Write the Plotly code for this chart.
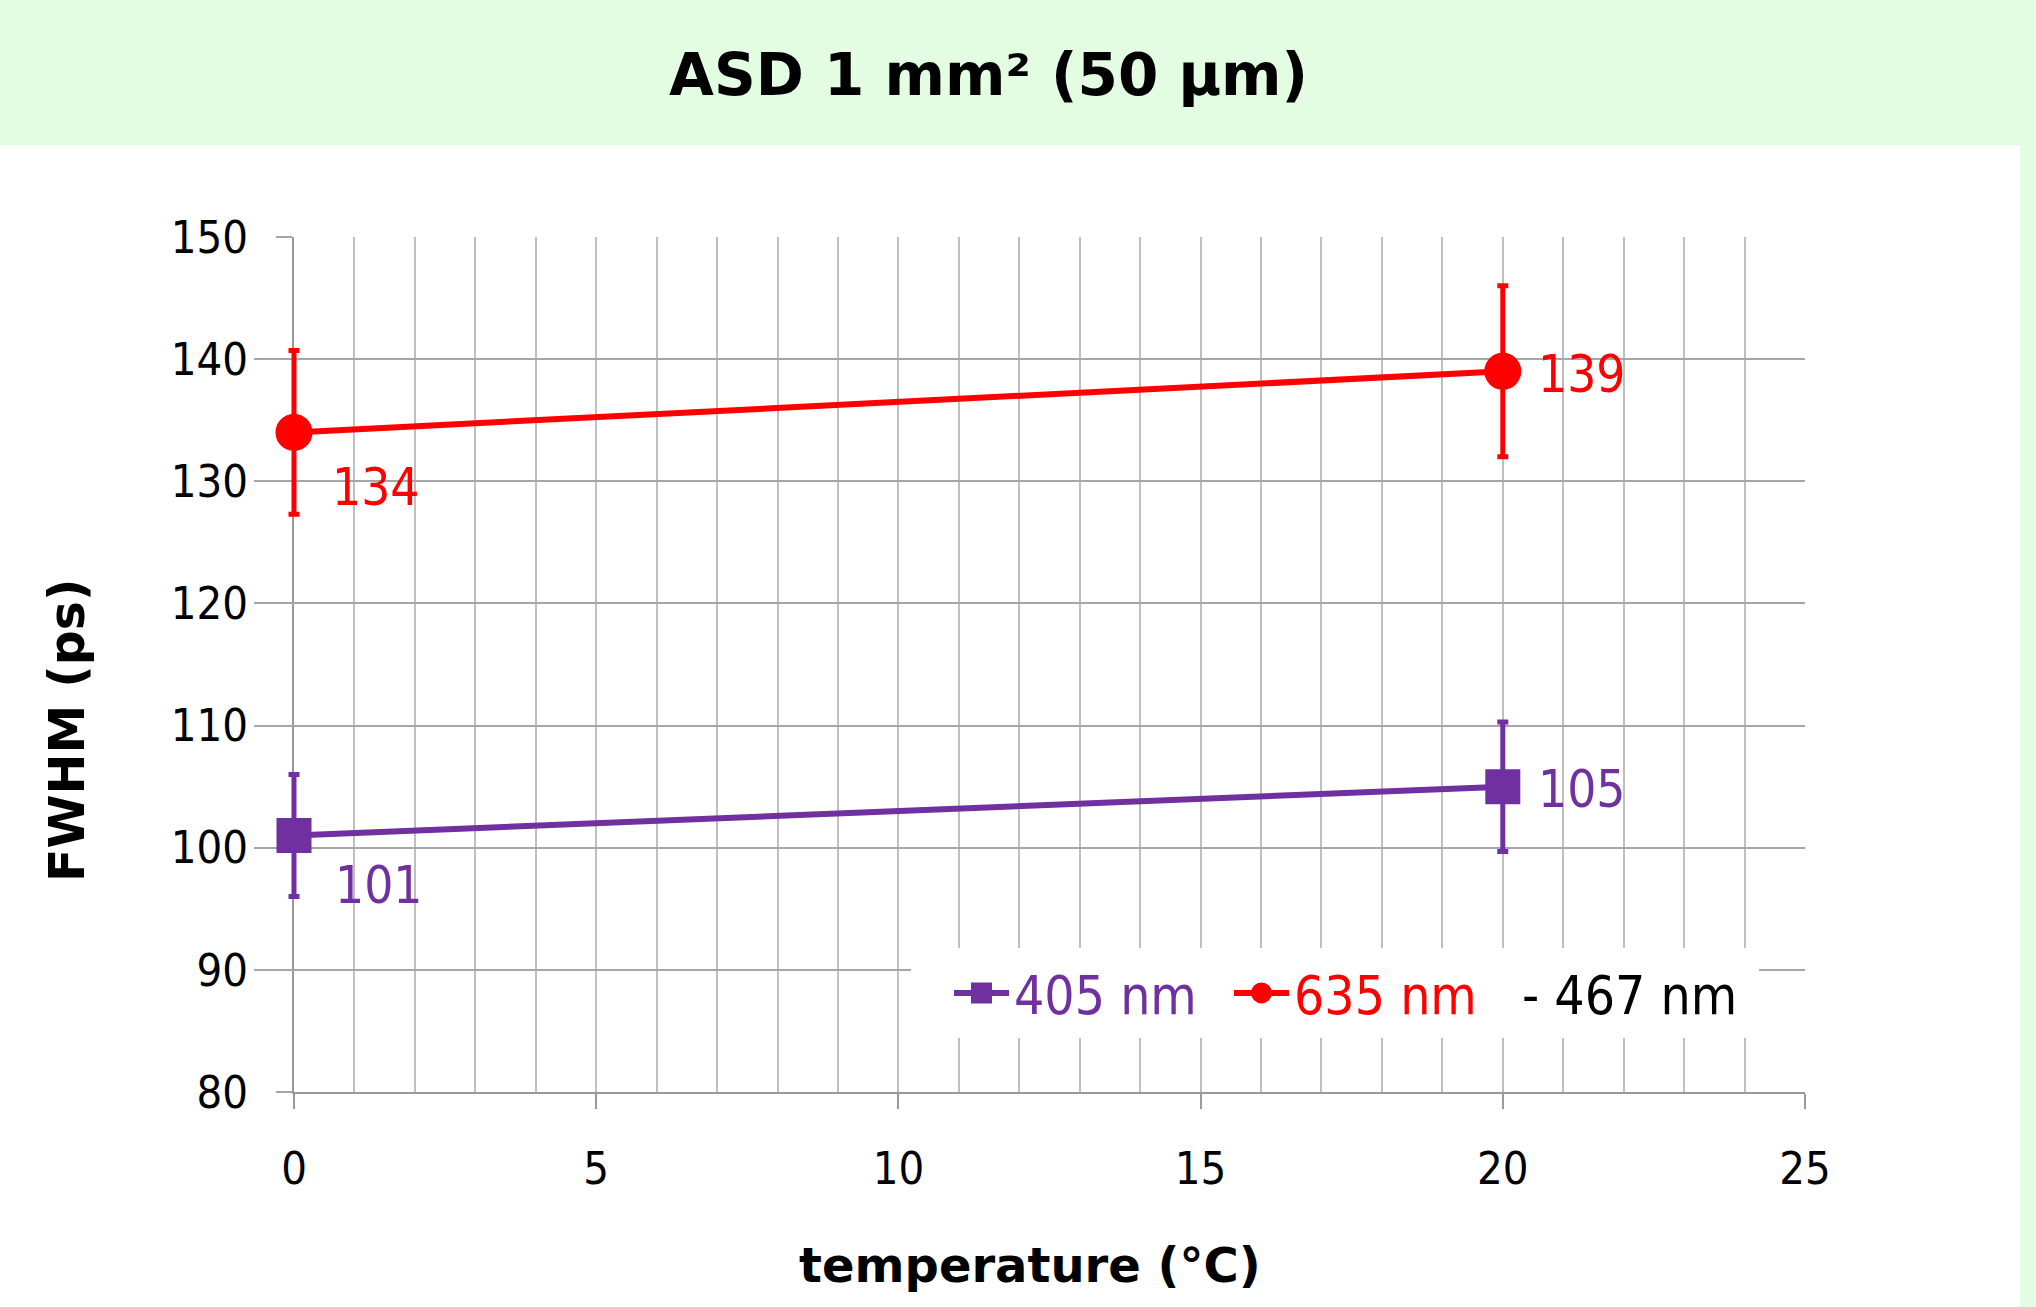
import plotly.graph_objects as go

# ---- data ----
temperature = [0, 20]
fwhm_405 = [101, 105]
err_405 = [5.0, 5.3]
fwhm_635 = [134, 139]
err_635 = [6.7, 7.0]
series_names = ["405 nm", "635 nm", "- 467 nm"]
title_text = "ASD 1 mm² (50 µm)"
x_title = "temperature (°C)"
y_title = "FWHM (ps)"
x_ticks = [0, 5, 10, 15, 20, 25]
y_ticks = [80, 90, 100, 110, 120, 130, 140, 150]
x_range = [0, 25]
y_range = [80, 150]

PURPLE = "#7030A0"
RED = "#FF0000"
GREEN = "#E3FDE3"
NUMFONT = "DejaVu Sans Condensed, DejaVu Sans, sans-serif"
BOLDFONT = "DejaVu Sans, sans-serif"

W, H = 2036, 1307
AX_L, AX_R, T, B = 294, 1805, 237, 1092      # visible axes box (px)
EXTRA = 40                                    # unclipped room left of the axis
L = AX_L - EXTRA
R = W - AX_R
PW, PH = AX_R - L, B - T


def px_x(p):
    return (p - L) / PW


def px_y(p):
    return (B - p) / PH


# the data subplot (x2) is slightly wider so marks at x=0 are not clipped
unit_px = (AX_R - AX_L) / (x_range[1] - x_range[0])
x2_range = [x_range[0] - EXTRA / unit_px, x_range[1]]

fig = go.Figure()

fig.add_trace(go.Scatter(
    x=temperature, y=fwhm_405, mode="lines+markers", xaxis="x2", yaxis="y",
    name=f"<span style='color:{PURPLE}'>{series_names[0]}</span>",
    line=dict(color=PURPLE, width=6),
    marker=dict(symbol="square", size=30, color=PURPLE,
                line=dict(color=PURPLE, width=5)),
    error_y=dict(type="data", array=err_405, color=PURPLE, thickness=5, width=5.5),
    cliponaxis=False, legend="legend",
))
fig.add_trace(go.Scatter(
    x=temperature, y=fwhm_635, mode="lines+markers", xaxis="x2", yaxis="y",
    name=f"<span style='color:{RED}'>{series_names[1]}</span>",
    line=dict(color=RED, width=6),
    marker=dict(symbol="circle", size=32, color=RED,
                line=dict(color=RED, width=5)),
    error_y=dict(type="data", array=err_635, color=RED, thickness=5, width=5.5),
    cliponaxis=False, legend="legend2",
))
fig.add_trace(go.Scatter(
    x=[None], y=[None], mode="lines", xaxis="x", yaxis="y",
    name=f"<span style='color:black'>{series_names[2]}</span>",
    line=dict(color="rgba(0,0,0,0)", width=0),
    legend="legend3",
))

# data labels
label_shifts = {
    "405": [(39, -50), (33, -3)],
    "635": [(36, -55), (33, -3)],
}
for key, xs, ys, col in [("405", temperature, fwhm_405, PURPLE),
                         ("635", temperature, fwhm_635, RED)]:
    for i, (xv, yv) in enumerate(zip(xs, ys)):
        xshift, yshift = label_shifts[key][i]
        fig.add_annotation(x=xv, y=yv, xref="x", yref="y", text=str(yv),
                           showarrow=False, xanchor="left", yanchor="middle",
                           xshift=xshift, yshift=yshift,
                           font=dict(family=NUMFONT, size=51, color=col))

# title & axis titles
fig.add_annotation(x=px_x(988), y=px_y(75), xref="paper", yref="paper",
                   text=f"<b>{title_text}</b>", showarrow=False,
                   xanchor="center", yanchor="middle",
                   font=dict(family=BOLDFONT, size=58, color="black"))
fig.add_annotation(x=px_x(1030), y=px_y(1265), xref="paper", yref="paper",
                   text=f"<b>{x_title}</b>", showarrow=False,
                   xanchor="center", yanchor="middle",
                   font=dict(family=BOLDFONT, size=48, color="black"))
fig.add_annotation(x=px_x(67), y=px_y(731), xref="paper", yref="paper",
                   text=f"<b>{y_title}</b>", showarrow=False, textangle=-90,
                   xanchor="center", yanchor="middle",
                   font=dict(family=BOLDFONT, size=49, color="black"))

# background panels
fig.add_shape(type="rect", xref="paper", yref="paper",
              x0=px_x(0), x1=px_x(2020), y0=px_y(H), y1=px_y(145),
              fillcolor="white", line=dict(width=0), layer="below")
# legend box
fig.add_shape(type="rect", xref="paper", yref="paper",
              x0=px_x(911), x1=px_x(1759), y0=px_y(1038), y1=px_y(948),
              fillcolor="white", line=dict(width=0), layer="above")

leg_common = dict(orientation="h", xanchor="left", yanchor="top",
                  bgcolor="rgba(0,0,0,0)", borderwidth=0,
                  font=dict(family=NUMFONT, size=53, color="black"))
LEG_TOP = 952

fig.update_layout(
    width=W, height=H,
    margin=dict(l=L, r=R, t=T, b=H - B, pad=0),
    paper_bgcolor=GREEN, plot_bgcolor="rgba(0,0,0,0)",
    showlegend=True,
    legend=dict(x=px_x(949), y=px_y(LEG_TOP), itemwidth=55, **leg_common),
    legend2=dict(x=px_x(1229), y=px_y(LEG_TOP), itemwidth=55, **leg_common),
    legend3=dict(x=px_x(1482), y=px_y(LEG_TOP), itemwidth=30, **leg_common),
    font=dict(family=NUMFONT),
    xaxis=dict(
        domain=[px_x(AX_L), 1], anchor="y",
        range=x_range, tickmode="array", tickvals=x_ticks,
        ticks="outside", ticklen=15, tickwidth=2, tickcolor="#999999",
        showline=True, linecolor="#999999", linewidth=2,
        showgrid=True, gridcolor="#BFBFBF", gridwidth=2,
        minor=dict(dtick=1, showgrid=True, gridcolor="#BFBFBF", gridwidth=2, ticks=""),
        zeroline=False, layer="below traces",
        tickfont=dict(family=NUMFONT, size=45, color="black"),
        ticklabelstandoff=21,
    ),
    xaxis2=dict(
        domain=[0, 1], anchor="y", range=x2_range, visible=False,
        showgrid=False, zeroline=False,
    ),
    yaxis=dict(
        domain=[0, 1], anchor="x",
        range=y_range, tickmode="array", tickvals=y_ticks,
        ticks="outside", ticklen=16, tickwidth=2, tickcolor="#A6A6A6",
        showline=True, linecolor="#999999", linewidth=2,
        showgrid=True, gridcolor="#A6A6A6", gridwidth=2,
        zeroline=False, layer="below traces",
        tickfont=dict(family=NUMFONT, size=45, color="black"),
        ticklabelstandoff=19,
    ),
)

fig.write_html("out.html")
